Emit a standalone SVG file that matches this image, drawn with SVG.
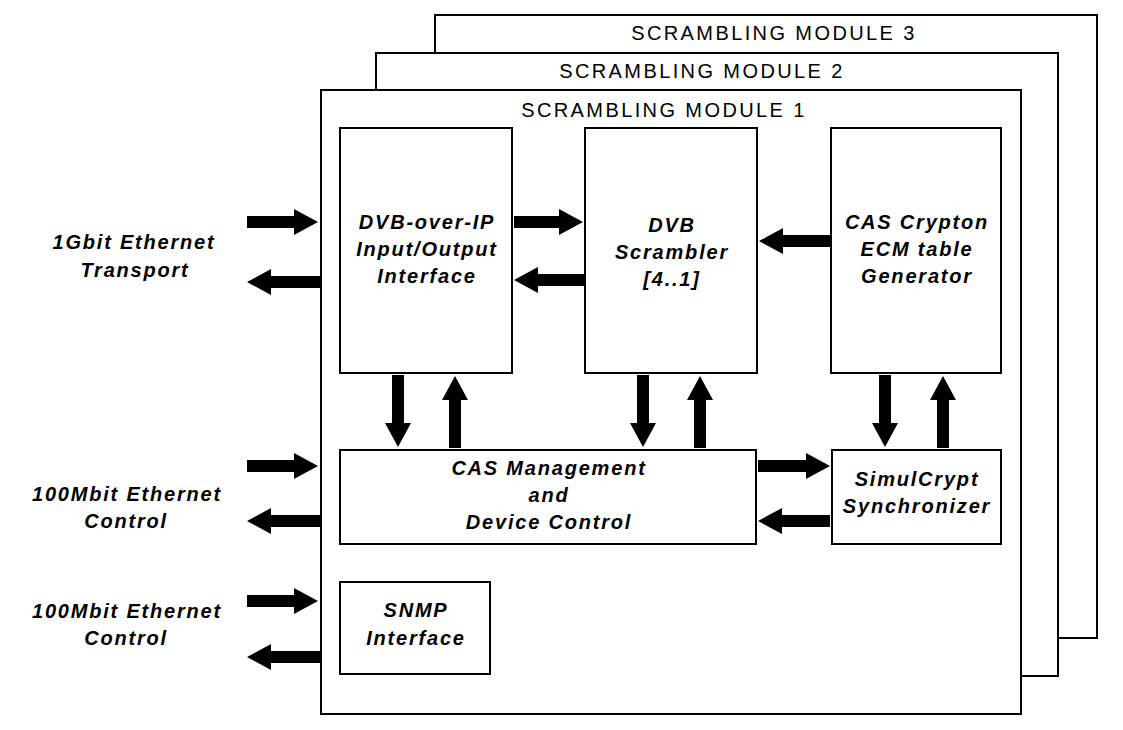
<svg xmlns="http://www.w3.org/2000/svg" width="1123" height="730" viewBox="0 0 1123 730">
<style>
.f{fill:#fff;stroke:#000;stroke-width:2}
.t{font-family:"Liberation Sans",Arial,sans-serif;font-size:20px;text-anchor:middle;letter-spacing:2.4px}
.b{font-weight:bold;font-style:italic;letter-spacing:1.8px}
.a{fill:#000}
</style>
<rect width="1123" height="730" fill="#fff"/>
<g id="module3"><rect class="f" x="435" y="15" width="662" height="623"/><text class="t" x="774" y="40">SCRAMBLING MODULE 3</text></g>
<g id="module2"><rect class="f" x="376" y="53" width="682" height="623"/><text class="t" x="702" y="78">SCRAMBLING MODULE 2</text></g>
<g id="module1"><rect class="f" x="321" y="90" width="700" height="624"/><text class="t" x="664" y="117">SCRAMBLING MODULE 1</text></g>
<g id="dvbip"><rect class="f" x="340" y="128" width="172" height="245"/><text class="t b" x="427" y="229">DVB-over-IP</text><text class="t b" x="427" y="256">Input/Output</text><text class="t b" x="427" y="283">Interface</text></g>
<g id="scrambler"><rect class="f" x="585" y="128" width="172" height="245"/><text class="t b" x="672" y="232">DVB</text><text class="t b" x="672" y="259">Scrambler</text><text class="t b" x="672" y="286">[4..1]</text></g>
<g id="crypton"><rect class="f" x="831" y="128" width="170" height="245"/><text class="t b" x="917" y="229">CAS Crypton</text><text class="t b" x="917" y="256">ECM table</text><text class="t b" x="917" y="283">Generator</text></g>
<g id="casmgmt"><rect class="f" x="340" y="450" width="416" height="94"/><text class="t b" x="549" y="475">CAS Management</text><text class="t b" x="549" y="502">and</text><text class="t b" x="549" y="529">Device Control</text></g>
<g id="simulcrypt"><rect class="f" x="832" y="450" width="169" height="94"/><text class="t b" x="917" y="486">SimulCrypt</text><text class="t b" x="917" y="513">Synchronizer</text></g>
<g id="snmp"><rect class="f" x="340" y="582" width="150" height="92"/><text class="t b" x="416" y="617">SNMP</text><text class="t b" x="416" y="645">Interface</text></g>
<g id="labels">
<text class="t b" x="134" y="249">1Gbit Ethernet</text><text class="t b" x="135" y="277">Transport</text>
<text class="t b" x="127" y="501">100Mbit Ethernet</text><text class="t b" x="126" y="528">Control</text>
<text class="t b" x="127" y="618">100Mbit Ethernet</text><text class="t b" x="126" y="645">Control</text>
</g>
<g id="connectors" class="a">
<polygon points="247,216 294,216 294,209 318,222 294,235 294,228 247,228"/>
<polygon points="514,216 559,216 559,209 583,222 559,235 559,228 514,228"/>
<polygon points="247,460 294,460 294,453 318,466 294,479 294,472 247,472"/>
<polygon points="247,595 294,595 294,588 318,601 294,614 294,607 247,607"/>
<polygon points="758,460 806,460 806,453 830,466 806,479 806,472 758,472"/>
<polygon points="320,276 271,276 271,269 247,282 271,295 271,288 320,288"/>
<polygon points="585,274 538,274 538,267 514,280 538,293 538,286 585,286"/>
<polygon points="830,235 783,235 783,228 759,241 783,254 783,247 830,247"/>
<polygon points="320,515 271,515 271,508 247,521 271,534 271,527 320,527"/>
<polygon points="830,515 782,515 782,508 758,521 782,534 782,527 830,527"/>
<polygon points="320,651 271,651 271,644 247,657 271,670 271,663 320,663"/>
<polygon points="392,375 404,375 404,423 411,423 398,447 385,423 392,423"/>
<polygon points="637,375 649,375 649,423 656,423 643,447 630,423 637,423"/>
<polygon points="879,375 891,375 891,423 898,423 885,447 872,423 879,423"/>
<polygon points="449,448 461,448 461,400 468,400 455,376 442,400 449,400"/>
<polygon points="694,448 706,448 706,400 713,400 700,376 687,400 694,400"/>
<polygon points="937,448 949,448 949,400 956,400 943,376 930,400 937,400"/>
</g>
</svg>
